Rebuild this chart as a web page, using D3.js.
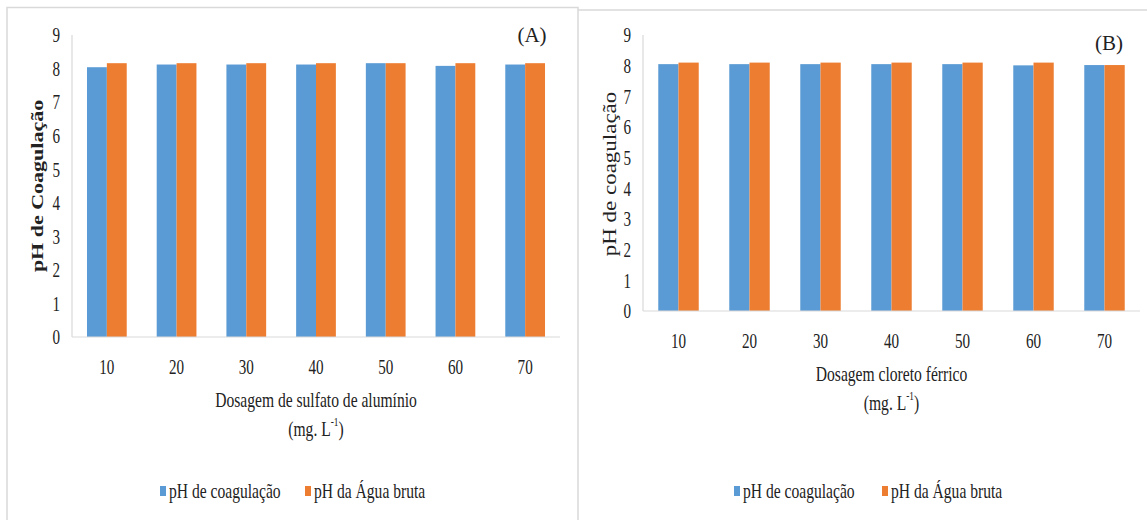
<!DOCTYPE html>
<html>
<head>
<meta charset="utf-8">
<script src="https://cdn.jsdelivr.net/npm/d3@7"></script>
<style>
  html, body { margin: 0; padding: 0; background: #ffffff; }
  svg { display: block; }
  text { font-family: "Liberation Serif", "Times New Roman", serif; fill: #222; }
</style>
</head>
<body>
<div id="chart"></div>
<script>
// ---- data ----
const categories = ["10", "20", "30", "40", "50", "60", "70"];
const seriesNames = ["pH de coagulação", "pH da Água bruta"];
const phCoagA = [8.04, 8.12, 8.12, 8.12, 8.16, 8.08, 8.12];
const phBrutaA = [8.16, 8.16, 8.16, 8.16, 8.16, 8.16, 8.16];
const phCoagB = [8.05, 8.05, 8.05, 8.05, 8.05, 8.01, 8.02];
const phBrutaB = [8.10, 8.10, 8.10, 8.10, 8.10, 8.10, 8.02];
const yTicks = [0, 1, 2, 3, 4, 5, 6, 7, 8, 9];
const panelLabels = ["(A)", "(B)"];
const yTitles = ["pH de Coagulação", "pH de coagulação"];
const xTitles = ["Dosagem de sulfato de alumínio", "Dosagem cloreto férrico"];
const unitText = ["(mg. L", "-1", ")"];

// ---- style ----
const colors = ["#5b9bd5", "#ed7d31"];
const gridGray = "#d9d9d9";
const W = 1147, H = 520;

const svg = d3.select("#chart").append("svg")
  .attr("width", W).attr("height", H);
svg.append("rect").attr("width", W).attr("height", H).attr("fill", "#fff");

// panel frames
svg.append("path").attr("d", "M7,520 V7.5 H578 V520")
  .attr("fill", "none").attr("stroke", gridGray).attr("stroke-width", 1.5);
svg.append("path").attr("d", "M578,10 H1147")
  .attr("fill", "none").attr("stroke", gridGray).attr("stroke-width", 1.5);

function label(g, x, y, str, size, sx, anchor, weight) {
  return g.append("text")
    .attr("transform", `translate(${x},${y}) scale(${sx},1)`)
    .attr("text-anchor", anchor || "middle")
    .attr("dominant-baseline", "central")
    .attr("font-size", size)
    .attr("font-weight", weight || "normal")
    .text(str);
}

const panels = [
  { coag: phCoagA, bruta: phBrutaA, left: 72, right: 560, top: 35, bottom: 337,
    yTitleX: 37, yTitleY: 186, yTitleSize: 22, yTitleWeight: "bold",
    tagX: 532, tagY: 35, legendX: [160, 305] },
  { coag: phCoagB, bruta: phBrutaB, left: 643, right: 1140, top: 35, bottom: 311,
    yTitleX: 610, yTitleY: 174, yTitleSize: 23, yTitleWeight: "normal",
    tagX: 1109, tagY: 43, legendX: [734, 882] }
];

panels.forEach((p, pi) => {
  const g = svg.append("g");
  const x0 = d3.scaleBand().domain(categories).range([p.left, p.right])
    .paddingInner(0.43).paddingOuter(0.215);
  const x1 = d3.scaleBand().domain(seriesNames).range([0, x0.bandwidth()]);
  const y = d3.scaleLinear().domain([0, 9]).range([p.bottom, p.top]);

  // y axis line
  g.append("line").attr("x1", p.left).attr("x2", p.left)
    .attr("y1", y(9)).attr("y2", y(0))
    .attr("stroke", gridGray).attr("stroke-width", 1.2);

  // bars
  const rows = categories.map((c, i) => ({ c, vals: [p.coag[i], p.bruta[i]] }));
  const grp = g.selectAll("g.cat").data(rows).join("g")
    .attr("transform", d => `translate(${x0(d.c)},0)`);
  grp.selectAll("rect").data(d => d.vals.map((v, k) => ({ v, k })))
    .join("rect")
    .attr("x", d => x1(seriesNames[d.k]))
    .attr("width", x1.bandwidth())
    .attr("y", d => y(d.v))
    .attr("height", d => y(0) - y(d.v))
    .attr("fill", d => colors[d.k]);

  // x axis baseline
  g.append("line").attr("x1", p.left).attr("x2", p.right)
    .attr("y1", y(0)).attr("y2", y(0))
    .attr("stroke", gridGray).attr("stroke-width", 1.2);

  // y axis ticks via d3 axis
  const yAxis = g.append("g").attr("transform", `translate(${p.left},0)`)
    .call(d3.axisLeft(y).tickValues(yTicks).tickSize(0).tickFormat(d3.format("d")));
  yAxis.select(".domain").remove();
  yAxis.selectAll("text")
    .attr("x", null).attr("dy", null)
    .attr("font-family", "Liberation Serif")
    .attr("font-size", 21).attr("fill", "#222")
    .attr("text-anchor", "end").attr("dominant-baseline", "central")
    .attr("transform", "translate(-12,0) scale(0.72,1)");

  // x axis labels via d3 axis
  const xAxis = g.append("g").attr("transform", `translate(0,${y(0)})`)
    .call(d3.axisBottom(x0).tickSize(0));
  xAxis.select(".domain").remove();
  xAxis.selectAll("text")
    .attr("y", null).attr("dy", null)
    .attr("font-family", "Liberation Serif")
    .attr("font-size", 21).attr("fill", "#222")
    .attr("text-anchor", "middle").attr("dominant-baseline", "central")
    .attr("transform", "translate(0,30) scale(0.72,1)");

  const cx = (p.left + p.right) / 2;
  // x title
  label(g, cx, y(0) + 63, xTitles[pi], 20, 0.78);
  const u = g.append("text")
    .attr("transform", `translate(${cx},${y(0) + 92}) scale(0.78,1)`)
    .attr("text-anchor", "middle").attr("dominant-baseline", "central")
    .attr("font-size", 20);
  u.append("tspan").text(unitText[0]);
  u.append("tspan").attr("font-size", 12).attr("dy", -7).text(unitText[1]);
  u.append("tspan").attr("dy", 7).text(unitText[2]);

  // y title
  g.append("text")
    .attr("transform", `translate(${p.yTitleX},${p.yTitleY}) scale(0.78,1) rotate(-90)`)
    .attr("text-anchor", "middle").attr("dominant-baseline", "central")
    .attr("font-size", p.yTitleSize).attr("font-weight", p.yTitleWeight)
    .text(yTitles[pi]);

  // panel tag
  g.append("text").attr("x", p.tagX).attr("y", p.tagY)
    .attr("text-anchor", "middle").attr("dominant-baseline", "central")
    .attr("font-size", 21).text(panelLabels[pi]);

  // legend
  seriesNames.forEach((s, k) => {
    const lx = p.legendX[k];
    g.append("rect").attr("x", lx).attr("y", 486).attr("width", 6).attr("height", 10)
      .attr("fill", colors[k]);
    label(g, lx + 9, 491, s, 20, 0.78, "start");
  });
});
</script>
</body>
</html>
